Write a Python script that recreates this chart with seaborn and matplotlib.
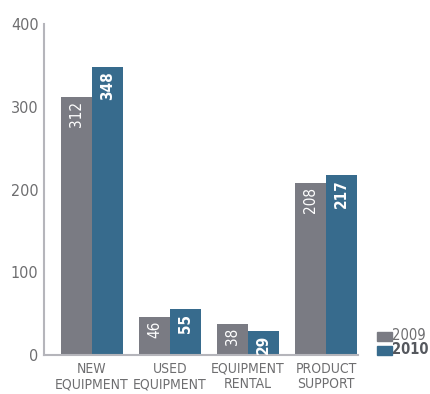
import matplotlib
matplotlib.use("Agg")
import matplotlib.pyplot as plt
import seaborn as sns
import pandas as pd

categories = ["NEW\nEQUIPMENT", "USED\nEQUIPMENT", "EQUIPMENT\nRENTAL", "PRODUCT\nSUPPORT"]
values_2009 = [312, 46, 38, 208]
values_2010 = [348, 55, 29, 217]
years = ["2009", "2010"]
yticks = [0, 100, 200, 300, 400]

df = pd.DataFrame({
    "category": categories * 2,
    "value": values_2009 + values_2010,
    "year": [years[0]] * 4 + [years[1]] * 4,
})

sns.set_style("white")
plt.rcParams["font.family"] = ["DejaVu Sans"]
plt.rcParams["font.stretch"] = "condensed"

c09 = "#7a7b83"
c10 = "#376b8d"
tick_col = "#6e6e70"

fig = plt.figure(figsize=(4.31, 3.94), dpi=100)
ax = fig.add_axes([0.102, 0.099, 0.729, 0.840])
sns.barplot(data=df, x="category", y="value", hue="year", palette=[c09, c10],
            width=0.8, saturation=1, ax=ax, legend=False, linewidth=0)

ax.set_ylim(0, 400)
ax.set_xlim(-0.615, 3.41)
ax.set_yticks(yticks)
ax.set_yticklabels([str(t) for t in yticks], color=tick_col, fontsize=11.5, stretch="condensed")
ax.tick_params(axis="both", length=0, pad=4)
ax.tick_params(axis="x", pad=5)
for lbl in ax.get_xticklabels():
    lbl.set_color(tick_col)
    lbl.set_fontsize(10)
    lbl.set_fontstretch("condensed")
    lbl.set_linespacing(1.1)
ax.set_xlabel("")
ax.set_ylabel("")
for s in ["top", "right"]:
    ax.spines[s].set_visible(False)
for s in ["left", "bottom"]:
    ax.spines[s].set_color("#b5b5bb")
    ax.spines[s].set_linewidth(1.5)

for i, cont in enumerate(ax.containers):
    for bar in cont:
        h = bar.get_height()
        x = bar.get_x() + bar.get_width() / 2
        ax.text(x, h - 5, f"{int(h)}", rotation=90, ha="center", va="top",
                color="white", fontsize=11, stretch="condensed",
                fontweight="bold" if i == 1 else "normal")

# legend
fig.patches.append(plt.Rectangle((377 / 431, 1 - 341 / 394), 15 / 431, 9 / 394,
                                 transform=fig.transFigure, color=c09))
fig.patches.append(plt.Rectangle((377 / 431, 1 - 355 / 394), 15 / 431, 9 / 394,
                                 transform=fig.transFigure, color=c10))
fig.text(392 / 431, 1 - 336 / 394, "2009", color=tick_col, fontsize=10.5, va="center", ha="left",
         stretch="condensed")
fig.text(392 / 431, 1 - 350 / 394, "2010", color="#55585e", fontsize=10.5, va="center", ha="left",
         fontweight="bold", stretch="condensed")

fig.savefig("out.png", dpi=100)
